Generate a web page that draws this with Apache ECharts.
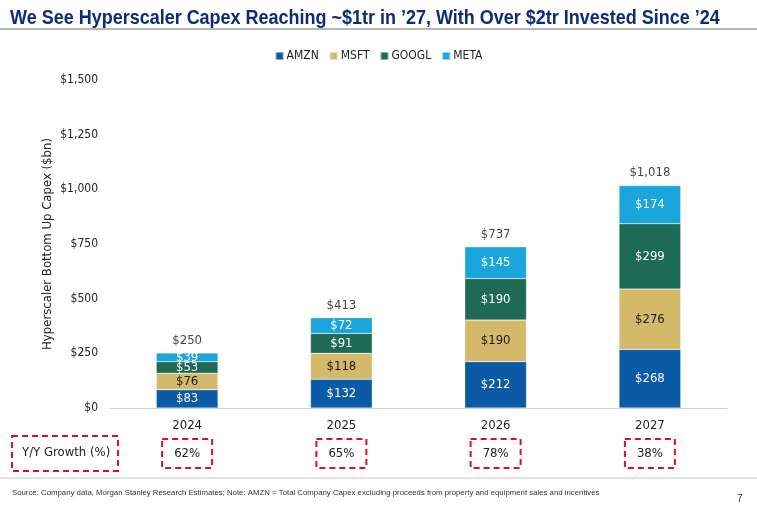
<!DOCTYPE html>
<html>
<head>
  <meta charset="utf-8">
  <title>Hyperscaler Capex</title>
  <script src="https://cdn.jsdelivr.net/npm/echarts@6/dist/echarts.min.js"></script>
  <style>
    html, body { margin: 0; padding: 0; background: #fff; }
    #wrap { position: relative; width: 757px; height: 508px; }
    #chart { width: 757px; height: 508px; }
    #title {
      position: absolute; left: 10px; top: 5px; white-space: nowrap;
      font: bold 21px 'Liberation Sans', Arial, sans-serif; color: #0d2a7c;
      transform-origin: 0 0;
    }
  </style>
</head>
<body>
  <div id="wrap">
    <div id="chart"></div>
    <div id="title">We See Hyperscaler Capex Reaching ~$1tr in &rsquo;27, With Over $2tr Invested Since &rsquo;24</div>
  </div>
  <script>
    // data
    var years = ['2024', '2025', '2026', '2027'];
    var amzn = [83, 132, 212, 268];
    var msft = [76, 118, 190, 276];
    var googl = [53, 91, 190, 299];
    var meta = [39, 72, 145, 174];
    var totals = [250, 413, 737, 1018];
    var growth = ['62%', '65%', '78%', '38%'];

    var FONT = "'DejaVu Sans Condensed', 'Liberation Sans', sans-serif";
    var colors = ['#0b5aa6', '#d4b96b', '#1f6a55', '#1aa5dc'];

    // squeeze the title to the narrow width it has in the slide
    var t = document.getElementById('title');
    t.style.transform = 'scaleX(' + (710 / t.offsetWidth) + ')';

    function money(v) {
      return '$' + v.toLocaleString('en-US');
    }

    function segment(name, data, textColor) {
      return {
        name: name,
        type: 'bar',
        stack: 'capex',
        barWidth: '40%',
        data: data,
        itemStyle: { borderColor: 'rgba(255,255,255,0.5)', borderWidth: 0.5 },
        label: {
          show: true,
          position: 'inside',
          color: textColor,
          fontFamily: FONT,
          fontSize: 13,
          formatter: function (p) { return money(p.value); }
        }
      };
    }

    var myChart = echarts.init(document.getElementById('chart'));
    var option = {
      animation: false,
      color: colors,
      textStyle: { fontFamily: FONT },
      legend: {
        top: 45,
        left: 'center',
        itemWidth: 8,
        itemHeight: 8,
        itemGap: 10,
        icon: 'rect',
        data: ['AMZN', 'MSFT', 'GOOGL', 'META'],
        textStyle: { fontFamily: FONT, fontSize: 12, color: '#222', padding: [0, 0, 0, -2] }
      },
      grid: { left: 110, right: 30, top: 80, bottom: 100, containLabel: false },
      xAxis: [{
        type: 'category',
        data: years,
        axisLine: { lineStyle: { color: '#d4d4d4', width: 1 } },
        axisTick: { show: false },
        axisLabel: { color: '#222', fontSize: 13, margin: 11, fontFamily: FONT }
      }, {
        type: 'category',
        data: growth,
        position: 'bottom',
        axisLine: { show: false },
        axisTick: { show: false },
        axisLabel: {
          color: '#222', fontSize: 13, margin: 31, fontFamily: FONT,
          borderColor: '#d7141e', borderWidth: 2, borderType: [6, 4],
          padding: [8, 12]
        }
      }],
      yAxis: {
        type: 'value',
        min: 0,
        max: 1500,
        interval: 250,
        name: 'Hyperscaler Bottom Up Capex ($bn)',
        nameLocation: 'middle',
        nameGap: 56,
        nameMoveOverlap: false,
        nameTextStyle: { color: '#222', fontSize: 13, fontFamily: FONT },
        splitLine: { show: false },
        axisLine: { show: false },
        axisTick: { show: false },
        axisLabel: { color: '#222', fontSize: 12, margin: 12, fontFamily: FONT, formatter: money }
      },
      series: [
        segment('AMZN', amzn, '#fff'),
        segment('MSFT', msft, '#1a1a1a'),
        segment('GOOGL', googl, '#fff'),
        segment('META', meta, '#fff'),
        {
          name: 'Total',
          type: 'scatter',
          data: totals,
          symbolSize: 0,
          silent: true,
          label: {
            show: true,
            position: 'top',
            distance: 6,
            color: '#111',
            fontSize: 13,
            fontFamily: FONT,
            formatter: function (p) { return money(p.value); }
          }
        }
      ],
      graphic: [
        { type: 'line', shape: { x1: 0, y1: 29, x2: 757, y2: 29 }, style: { stroke: '#b5b5b5', lineWidth: 2 } },
        { type: 'rect', shape: { x: 12, y: 436, width: 106, height: 35 }, style: { fill: 'none', stroke: '#d7141e', lineWidth: 2, lineDash: [6, 4] } },
        { type: 'text', left: 22, top: 446, style: { text: 'Y/Y Growth (%)', fill: '#222', font: '13px ' + FONT } },
        { type: 'line', shape: { x1: 0, y1: 478, x2: 757, y2: 478 }, style: { stroke: '#d9d9d9', lineWidth: 1.5 } },
        { type: 'text', left: 12, top: 489, style: { text: 'Source: Company data, Morgan Stanley Research Estimates; Note: AMZN = Total Company Capex excluding proceeds from property and equipment sales and incentives', fill: '#333', font: '7.8px Liberation Sans, sans-serif' } },
        { type: 'text', left: 737, top: 494, style: { text: '7', fill: '#333', font: '10px Liberation Sans, sans-serif' } }
      ]
    };
    myChart.setOption(option);
  </script>
</body>
</html>
